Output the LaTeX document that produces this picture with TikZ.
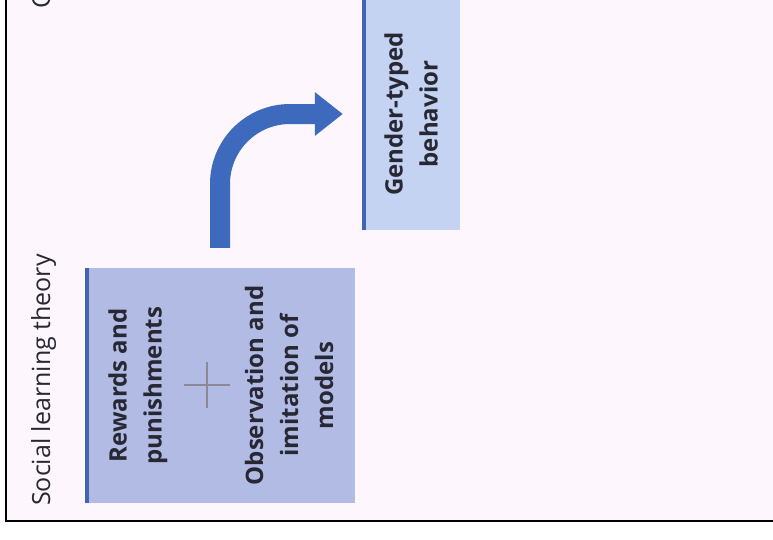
\documentclass[tikz,border=0pt]{standalone}
\usepackage{fontspec}
\setmainfont{Open Sans}
\usetikzlibrary{arrows.meta, positioning}
\definecolor{pagebg}{RGB}{253,246,253}
\definecolor{boxone}{RGB}{178,187,227}
\definecolor{boxtwo}{RGB}{196,211,241}
\definecolor{edgeblue}{RGB}{66,98,178}
\definecolor{arrowblue}{RGB}{62,106,190}
\definecolor{inktext}{RGB}{40,40,52}
\definecolor{plusgray}{RGB}{140,136,152}

\begin{document}
\begin{tikzpicture}[x=1pt, y=-1pt,
    panel/.style={rotate=90, inner sep=0pt},
    boxtext/.style={rotate=90, align=center, inner sep=0pt, text=inktext,
        font=\fontsize{24}{35}\selectfont\bfseries},
    heading/.style={rotate=90, anchor=base west, inner sep=0pt, text=inktext,
        font=\fontsize{25}{29}\selectfont},
    leftedge/.style={edgeblue, line width=4pt}]
    \useasboundingbox (0,0) rectangle (773,539);
    \clip (0,0) rectangle (773,539);
    \fill[white] (0,0) rectangle (773,539);
    \fill[pagebg] (6,0) rectangle (773,521);

    % panels
    \node[panel, fill=boxone, minimum width=235pt, minimum height=270pt] (social) at (220,385.5) {};
    \draw[leftedge] ([xshift=2pt]social.north west) -- ([xshift=2pt]social.north east);
    \node[boxtext, fill=boxtwo, minimum width=232pt, minimum height=98pt] (gender) at (411,114) {Gender-typed\\behavior};
    \draw[leftedge] ([xshift=2pt]gender.north west) -- ([xshift=2pt]gender.north east);

    % texts
    \node[heading] (title) at (50,506) {Social learning theory};
    \node[heading] (nexttitle) at (50,9) {C};
    \node[boxtext] (rewards) at (138,385.5) {Rewards and\\punishments};
    \node[boxtext] (observe) at (289,385.5) {Observation and\\imitation of\\models};
    \node[minimum size=46pt, inner sep=0pt] (plus) at (207,385) {};
    \draw[plusgray, line width=1.6pt] (plus.north) -- (plus.south) (plus.west) -- (plus.east);

    % arrow
    \draw[arrowblue, line width=20pt, rounded corners=70pt, -{Triangle[length=28pt, width=42pt]}]
        ([yshift=20pt]social.east) |- ([xshift=-19pt]gender.north);

    % frame
    \draw[black, line width=2pt] (6,0) -- (6,521) -- (773,521);
\end{tikzpicture}
\end{document}
